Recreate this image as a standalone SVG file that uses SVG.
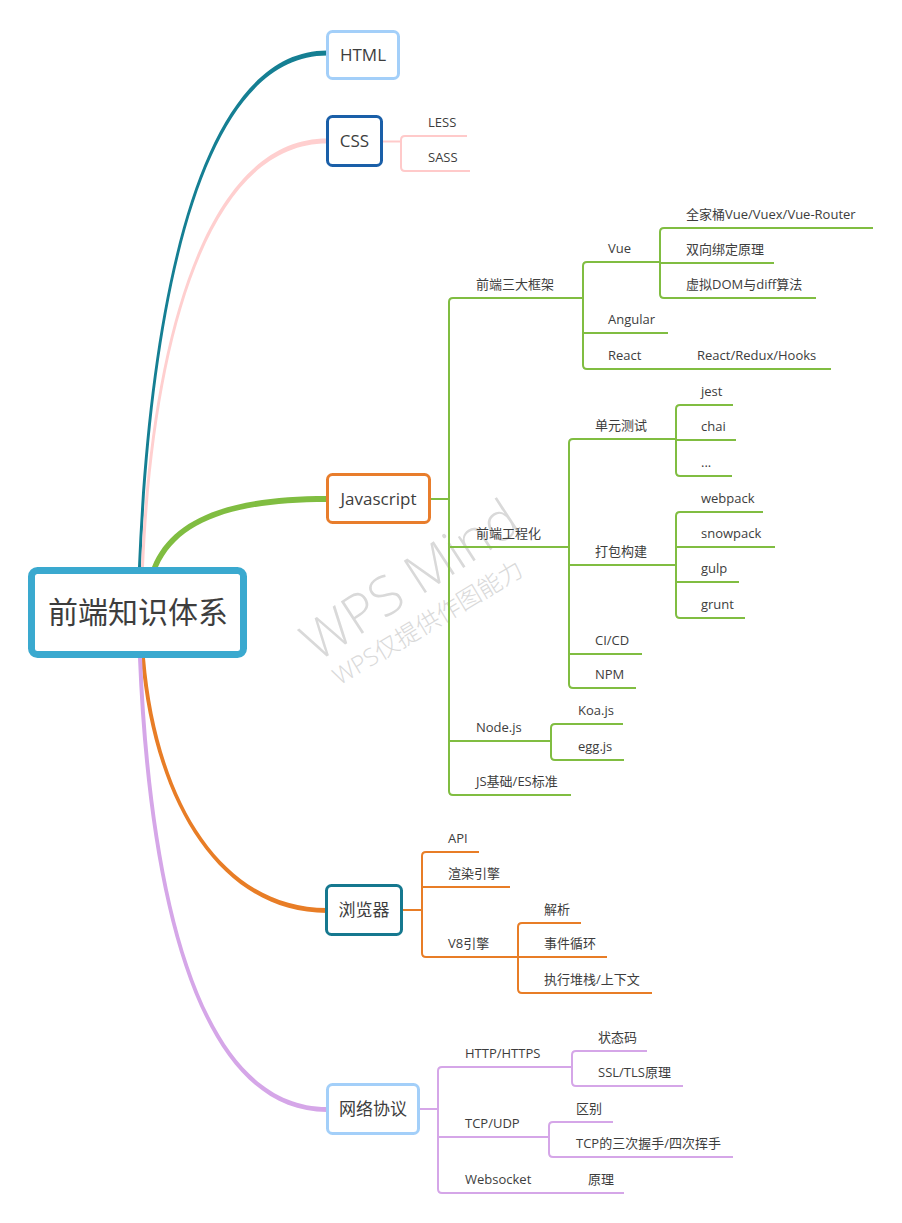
<svg xmlns="http://www.w3.org/2000/svg" width="902" height="1223" viewBox="0 0 902 1223">
<style>
text{font-family:"Open Sans","Noto Sans CJK SC","Noto Sans",sans-serif;fill:#3d3d3d}
.t{font-size:13px}
.n{font-size:17px;text-anchor:middle}
.r{font-size:30px;text-anchor:middle}
.box{fill:#fff;stroke-width:3}
.ln{fill:none;stroke-width:2;stroke-linecap:butt}
.g{stroke:#80bd41}.o{stroke:#e87d26}.p{stroke:#d5a6e8}.k{stroke:#ffcaca}
.wm{font-family:"Open Sans","Noto Sans CJK SC",sans-serif;fill:#d9d9d9;font-weight:300;text-anchor:middle}
</style>
<rect width="902" height="1223" fill="#fff"/>

<g id="watermark">
<text class="wm" font-size="54" transform="translate(420,596) rotate(-33)">WPS Mind</text>
<text class="wm" font-size="24" transform="translate(432,630) rotate(-31)">WPS仅提供作图能力</text>
</g>

<g id="connectors">
<path d="M138,567 C149,300 199,50.5 327,50.5 L327,55.5 C201,55.5 152,300 141,567 Z" fill="#157f93"/>
<path d="M141,567 C151,330 209,138.5 327,138.5 L327,143.5 C211,143.5 154,330 144,567 Z" fill="#ffcfcf"/>
<path d="M152,567 C172,518 229,496 327,496 L327,502 C231,502 178,522 158,567 Z" fill="#80bd41"/>
<path d="M141,658 C153,800 219,913 327,913 L327,908 C221,908 157,800 145,658 Z" fill="#e87d26"/>
<path d="M138,658 C148,900 198,1112 327,1112 L327,1107 C201,1107 152,900 142,658 Z" fill="#d5a6e8"/>

<!-- CSS -->
<path class="ln k" d="M383,141.5 H401" stroke-width="3"/>
<path class="ln k" d="M467,136 H405 Q401,136 401,140 V167 Q401,171 405,171 H470"/>

<!-- Javascript -->
<path class="ln g" d="M431,499 H449" stroke-width="3"/>
<path class="ln g" d="M583,298 H453 Q449,298 449,302 V791 Q449,795 453,795 H571"/>
<path class="ln g" d="M449,547 H569"/>
<path class="ln g" d="M449,741 H551"/>
<path class="ln g" d="M660,262 H587 Q583,262 583,266 V365 Q583,369 587,369 H831"/>
<path class="ln g" d="M583,333 H668"/>
<path class="ln g" d="M873,228 H664 Q660,228 660,232 V294 Q660,298 664,298 H816"/>
<path class="ln g" d="M660,263 H774"/>
<path class="ln g" d="M676,439 H573 Q569,439 569,443 V684 Q569,688 573,688 H636"/>
<path class="ln g" d="M569,565 H676"/>
<path class="ln g" d="M569,654 H642"/>
<path class="ln g" d="M733,405 H680 Q676,405 676,409 V472 Q676,476 680,476 H732"/>
<path class="ln g" d="M676,440 H736"/>
<path class="ln g" d="M763,512 H680 Q676,512 676,516 V614 Q676,618 680,618 H745"/>
<path class="ln g" d="M676,547 H775"/>
<path class="ln g" d="M676,582 H739"/>
<path class="ln g" d="M623,724 H555 Q551,724 551,728 V756 Q551,760 555,760 H624"/>

<!-- Browser -->
<path class="ln o" d="M403,910 H422" stroke-width="3"/>
<path class="ln o" d="M479,852 H426 Q422,852 422,856 V953 Q422,957 426,957 H518"/>
<path class="ln o" d="M422,887 H510"/>
<path class="ln o" d="M581,923 H522 Q518,923 518,927 V989 Q518,993 522,993 H652"/>
<path class="ln o" d="M518,957 H607"/>

<!-- Network -->
<path class="ln p" d="M420,1109 H438" stroke-width="3"/>
<path class="ln p" d="M572,1067 H442 Q438,1067 438,1071 V1189 Q438,1193 442,1193 H624"/>
<path class="ln p" d="M438,1137 H549"/>
<path class="ln p" d="M647,1051 H576 Q572,1051 572,1055 V1082 Q572,1086 576,1086 H683"/>
<path class="ln p" d="M613,1122 H553 Q549,1122 549,1126 V1153 Q549,1157 553,1157 H733"/>
</g>

<g id="root">
<rect x="31.5" y="570.5" width="212" height="84" rx="6" fill="#fff" stroke="#3aa9cf" stroke-width="7"/>
<text class="r" x="138" y="623">前端知识体系</text>
</g>
<g id="html"><rect class="box" x="327.5" y="31.5" width="71" height="47" rx="5" stroke="#a3cff9"/><text class="n" x="363" y="61">HTML</text></g>
<g id="css"><rect class="box" x="327.5" y="116.5" width="54" height="49" rx="5" stroke="#1a5fa8"/><text class="n" x="354.5" y="147">CSS</text></g>
<g id="javascript"><rect class="box" x="327.5" y="474.5" width="102" height="48" rx="5" stroke="#e87d2c"/><text class="n" x="378.5" y="505" font-size="16">Javascript</text></g>
<g id="browser"><rect class="box" x="326.5" y="885.5" width="75" height="49" rx="5" stroke="#15788f"/><text class="n" x="364" y="916">浏览器</text></g>
<g id="network"><rect class="box" x="327.5" y="1084.5" width="91" height="49" rx="5" stroke="#a3cff9"/><text class="n" x="373" y="1115">网络协议</text></g>

<g id="css-children">
<text class="t" x="428" y="127">LESS</text>
<text class="t" x="428" y="162">SASS</text>
</g>
<g id="js-children">
<text class="t" x="476" y="289">前端三大框架</text>
<text class="t" x="476" y="538">前端工程化</text>
<text class="t" x="476" y="732">Node.js</text>
<text class="t" x="476" y="786">JS基础/ES标准</text>
<text class="t" x="608" y="253">Vue</text>
<text class="t" x="608" y="324">Angular</text>
<text class="t" x="608" y="360">React</text>
<text class="t" x="697" y="360">React/Redux/Hooks</text>
<text class="t" x="686" y="219">全家桶Vue/Vuex/Vue-Router</text>
<text class="t" x="686" y="254">双向绑定原理</text>
<text class="t" x="686" y="289">虚拟DOM与diff算法</text>
<text class="t" x="595" y="430">单元测试</text>
<text class="t" x="595" y="556">打包构建</text>
<text class="t" x="595" y="645">CI/CD</text>
<text class="t" x="595" y="679">NPM</text>
<text class="t" x="701" y="396">jest</text>
<text class="t" x="701" y="431">chai</text>
<text class="t" x="701" y="467">...</text>
<text class="t" x="701" y="503">webpack</text>
<text class="t" x="701" y="538">snowpack</text>
<text class="t" x="701" y="573">gulp</text>
<text class="t" x="701" y="609">grunt</text>
<text class="t" x="578" y="715">Koa.js</text>
<text class="t" x="578" y="751">egg.js</text>
</g>
<g id="browser-children">
<text class="t" x="448" y="843">API</text>
<text class="t" x="448" y="878">渲染引擎</text>
<text class="t" x="448" y="948">V8引擎</text>
<text class="t" x="544" y="914">解析</text>
<text class="t" x="544" y="948">事件循环</text>
<text class="t" x="544" y="984">执行堆栈/上下文</text>
</g>
<g id="network-children">
<text class="t" x="465" y="1058">HTTP/HTTPS</text>
<text class="t" x="465" y="1128">TCP/UDP</text>
<text class="t" x="465" y="1184">Websocket</text>
<text class="t" x="588" y="1184">原理</text>
<text class="t" x="598" y="1042">状态码</text>
<text class="t" x="598" y="1077">SSL/TLS原理</text>
<text class="t" x="576" y="1113">区别</text>
<text class="t" x="576" y="1148">TCP的三次握手/四次挥手</text>
</g>
</svg>
